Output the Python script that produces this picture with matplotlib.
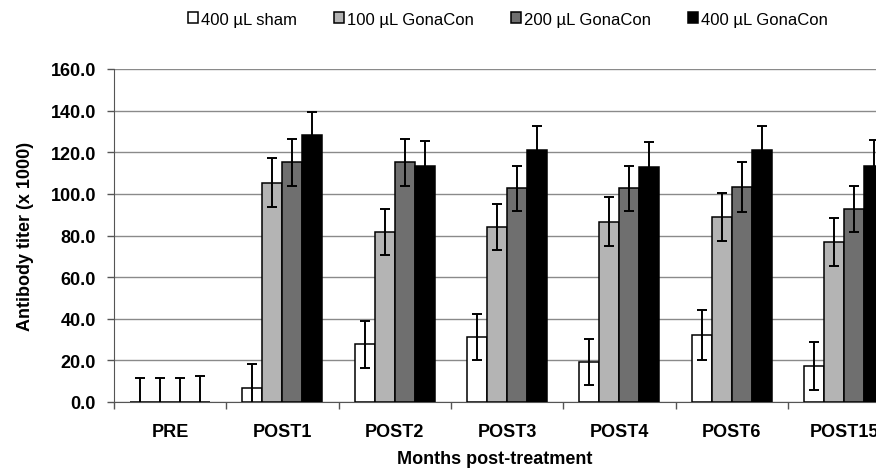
import numpy as np
import matplotlib
matplotlib.use("Agg")
import matplotlib.pyplot as plt

categories = ["PRE", "POST1", "POST2", "POST3", "POST4", "POST6", "POST15"]
series_names = ["400 µL sham", "100 µL GonaCon", "200 µL GonaCon", "400 µL GonaCon"]

sham_400 = [0.0, 6.6, 27.7, 31.4, 19.4, 32.0, 17.3]
gona_100 = [0.0, 105.3, 81.8, 84.0, 86.7, 89.0, 76.8]
gona_200 = [0.0, 115.2, 115.2, 102.6, 102.6, 103.2, 92.8]
gona_400 = [0.0, 128.2, 113.6, 121.2, 112.7, 121.3, 113.6]

sham_400_err = [11.4, 11.5, 11.2, 11.0, 11.0, 12.0, 11.5]
gona_100_err = [11.4, 11.7, 11.0, 10.9, 11.7, 11.5, 11.5]
gona_200_err = [11.4, 11.2, 11.2, 10.9, 10.9, 11.9, 11.2]
gona_400_err = [12.3, 11.2, 11.7, 11.6, 12.3, 11.4, 12.2]

colors = ["white", "#b4b4b4", "#6f6f6f", "black"]

plt.rcParams["font.family"] = ["Liberation Sans", "DejaVu Sans"]

fig = plt.figure(figsize=(8.76, 4.77), dpi=100)
ax = fig.add_axes([114 / 876, 1 - 403 / 477, 1 - 114 / 876, (403 - 70) / 477])

x = np.arange(len(categories))
width = 0.178
values = [sham_400, gona_100, gona_200, gona_400]
errors = [sham_400_err, gona_100_err, gona_200_err, gona_400_err]

for i, (vals, errs, col, name) in enumerate(zip(values, errors, colors, series_names)):
    pos = x + (i - 1.5) * width
    ax.bar(pos, vals, width, color=col, edgecolor="black", linewidth=1.1,
           label=name, zorder=3)
    ax.errorbar(pos, vals, yerr=errs, fmt="none", ecolor="black",
                elinewidth=1.4, capsize=3.6, capthick=1.4, zorder=4)

ax.set_yticks(np.arange(0, 161, 20))
ax.set_yticklabels([f"{v:.1f}" for v in np.arange(0, 161, 20)],
                   fontsize=13, fontweight="bold")
ax.set_xticks(x)
ax.set_xticklabels(categories, fontsize=13, fontweight="bold")
ax.set_xticks(np.arange(-0.5, len(categories), 1), minor=True)
# limits after the ticks so the minor ticks don't widen the view
ax.set_ylim(0, 160)
ax.set_xlim(-0.5, -0.5 + (876 - 114) / 112.3)
ax.tick_params(axis="x", which="major", length=0, pad=15)
ax.tick_params(axis="x", which="minor", length=5, width=1, color="#555555",
               direction="out")
ax.tick_params(axis="y", length=5, width=1, color="#555555", pad=8)

ax.yaxis.grid(True, color="#8a8a8a", linewidth=1)
ax.set_axisbelow(True)
for s in ["top", "right"]:
    ax.spines[s].set_visible(False)
ax.spines["left"].set_color("#555555")
ax.spines["bottom"].set_color("#555555")

ax.set_xlabel("Months post-treatment", fontsize=13, fontweight="bold", labelpad=7)
ax.set_ylabel("Antibody titer (x 1000)", fontsize=13, fontweight="bold", labelpad=12)

fig.legend(loc="center", bbox_to_anchor=(508 / 876, 1 - 20 / 477), ncol=4,
           frameon=False, fontsize=12, handlelength=0.6, handleheight=0.6,
           handletextpad=0.2, columnspacing=2.2, borderaxespad=0)

fig.savefig("out.png", dpi=100)
